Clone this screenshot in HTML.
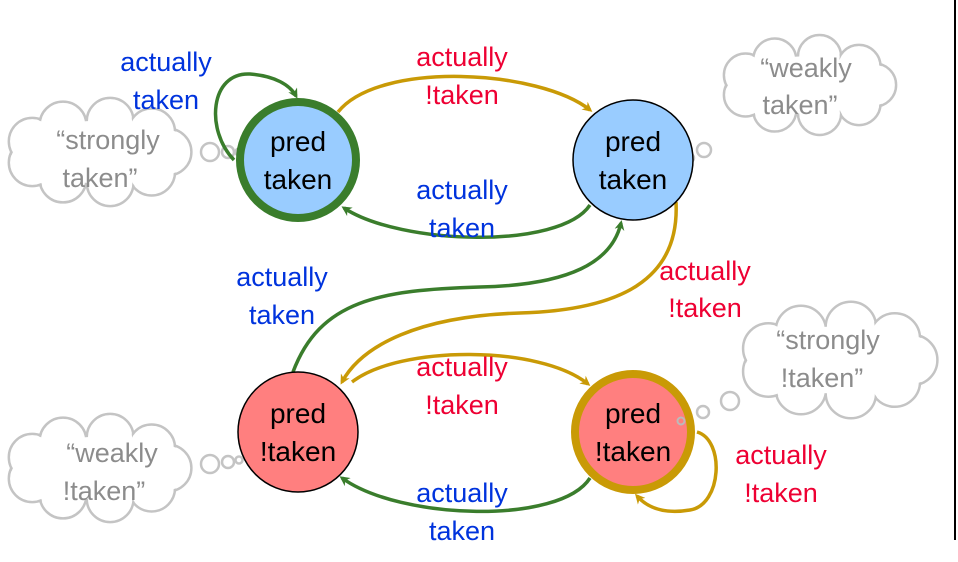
<!DOCTYPE html>
<html><head><meta charset="utf-8"><style>
html,body{margin:0;padding:0;background:#fff;}
svg{display:block;font-family:"Liberation Sans",Calibri,sans-serif;}
</style></head><body>
<svg id="s" width="958" height="562" viewBox="0 0 958 562" xmlns="http://www.w3.org/2000/svg">
<defs>
<marker id="ag" markerWidth="10" markerHeight="10" refX="7" refY="5" orient="auto" markerUnits="userSpaceOnUse"><path d="M0,0 L10,5 L0,10 L3,5 z" fill="#3a7d2c"/></marker>
<marker id="ay" markerWidth="10" markerHeight="10" refX="7" refY="5" orient="auto" markerUnits="userSpaceOnUse"><path d="M0,0 L10,5 L0,10 L3,5 z" fill="#c99a06"/></marker>
</defs>
<g id="clouds"></g>
<g fill="none" stroke-width="3.5">
<path d="M338,112 C380,60 540,70 590,110" stroke="#c99a06" marker-end="url(#ay)"/>
<path d="M590,205 C560,250 400,245 344,208" stroke="#3a7d2c" marker-end="url(#ag)"/>
<path d="M234,160 C205,130 210,72 250,74 C275,76 290,85 296,96" stroke="#3a7d2c" marker-end="url(#ag)"/>
<path d="M293,372 C320,300 380,290 480,287 C570,285 612,262 621,223" stroke="#3a7d2c" marker-end="url(#ag)"/>
<path d="M676,202 C680,280 620,310 520,313 C420,316 362,345 342,382" stroke="#c99a06" marker-end="url(#ay)"/>
<path d="M352,382 C400,345 540,345 588,384" stroke="#c99a06" marker-end="url(#ay)"/>
<path d="M590,478 C560,525 400,520 342,478" stroke="#3a7d2c" marker-end="url(#ag)"/>
<path d="M697,432 C725,440 722,505 690,510 C660,515 645,505 637,496" stroke="#c99a06" marker-end="url(#ay)"/>
</g>
<circle cx="298" cy="160" r="58" fill="#99ccff" stroke="#3a7d2c" stroke-width="8"/>
<circle cx="633" cy="160" r="60" fill="#99ccff" stroke="#000" stroke-width="1.5"/>
<circle cx="298" cy="432" r="60" fill="#ff7f7f" stroke="#000" stroke-width="1.5"/>
<circle cx="633" cy="432" r="58" fill="#ff7f7f" stroke="#c99a06" stroke-width="8"/>
<circle cx="681" cy="421" r="3.5" fill="none" stroke="#bbb" stroke-width="2"/>
<g font-size="28" text-anchor="middle" fill="#000">
<text x="298" y="151">pred</text><text x="298" y="189">taken</text>
<text x="633" y="151">pred</text><text x="633" y="189">taken</text>
<text x="298" y="423">pred</text><text x="298" y="461">!taken</text>
<text x="633" y="423">pred</text><text x="633" y="461">!taken</text>
</g>
<g font-size="27" text-anchor="middle">
<g fill="#0033dd">
<text x="166" y="71">actually</text><text x="166" y="109">taken</text>
<text x="462" y="199">actually</text><text x="462" y="237">taken</text>
<text x="282" y="286">actually</text><text x="282" y="324">taken</text>
<text x="462" y="502">actually</text><text x="462" y="540">taken</text>
</g>
<g fill="#ee0033">
<text x="462" y="66">actually</text><text x="462" y="104">!taken</text>
<text x="705" y="280">actually</text><text x="705" y="317">!taken</text>
<text x="462" y="376">actually</text><text x="462" y="414">!taken</text>
<text x="781" y="464">actually</text><text x="781" y="502">!taken</text>
</g>
<g fill="#8c8c8c">
<text x="108" y="149">“strongly</text><text x="100" y="187">taken”</text>
<text x="806" y="77">“weakly</text><text x="800" y="114">taken”</text>
<text x="828" y="349">“strongly</text><text x="822" y="387">!taken”</text>
<text x="112" y="462">“weakly</text><text x="104" y="500">!taken”</text>
</g>
</g>
<line x1="955" y1="0" x2="955" y2="540" stroke="#000" stroke-width="2"/>
</svg>
<script>
(function(){
var g=document.getElementById('clouds'),ns='http://www.w3.org/2000/svg';
function c(x,y,r,f,s,w){var e=document.createElementNS(ns,'circle');e.setAttribute('cx',x);e.setAttribute('cy',y);e.setAttribute('r',r);e.setAttribute('fill',f);if(s){e.setAttribute('stroke',s);e.setAttribute('stroke-width',w);}g.appendChild(e);}
function cloud(cx,cy,rx,ry,bubbles){
 var pts=[],n=9;
 for(var i=0;i<n;i++){var a=i/n*2*Math.PI;pts.push([cx+Math.cos(a)*rx*0.7,cy+Math.sin(a)*ry*0.6,ry*0.45]);}
 pts.forEach(function(p){c(p[0],p[1],p[2],'#fff','#c4c4c4',2.5);});
 pts.forEach(function(p){c(p[0],p[1],p[2]-1.5,'#fff');});
 var e=document.createElementNS(ns,'ellipse');e.setAttribute('cx',cx);e.setAttribute('cy',cy);e.setAttribute('rx',rx*0.72);e.setAttribute('ry',ry*0.6);e.setAttribute('fill','#fff');g.appendChild(e);
 bubbles.forEach(function(b){c(b[0],b[1],b[2],'#fff','#c4c4c4',2.5);});
}
cloud(98,152,100,52,[[210,152,9],[228,152,6],[239,152,3.5]]);
cloud(808,85,95,48,[[704,150,7],[690,158,4]]);
cloud(838,360,106,56,[[730,401,9],[703,412,6]]);
cloud(98,468,100,52,[[210,464,9],[228,462,6],[239,460,3.5]]);
})();
</script>
</body></html>
